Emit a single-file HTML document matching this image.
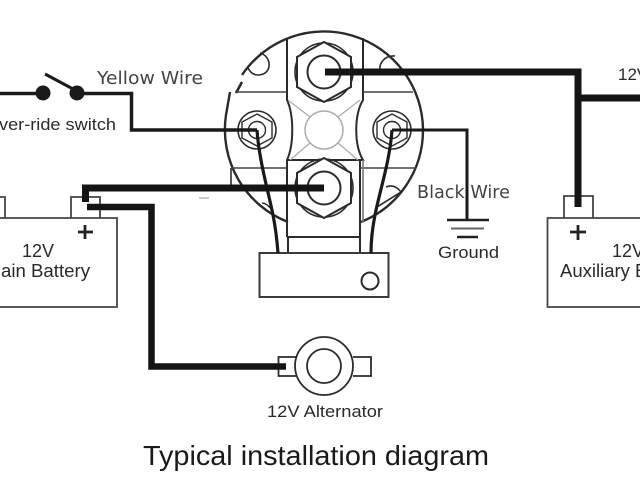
<!DOCTYPE html>
<html><head><meta charset="utf-8">
<style>
html,body{margin:0;padding:0;background:#fff;width:640px;height:480px;overflow:hidden}
svg{display:block;filter:blur(.3px)}
text{font-family:"Liberation Sans",sans-serif;fill:#2a2a2a}
</style></head><body>
<svg width="640" height="480" viewBox="0 0 640 480" xmlns="http://www.w3.org/2000/svg">
<g fill="none" stroke="#2b2b2b" stroke-width="2">
  <!-- outer circle -->
  <path d="M242 75 A99 99 0 0 1 423 130 A99 99 0 0 1 361 222" stroke-width="2.4"/>
  <path d="M288 222 A99 99 0 0 1 226 115 L230 92" stroke-width="2.4"/>
  <path d="M242 82 L236 93" stroke-width="2.600"/>
  <!-- lobes -->
  <path d="M260 53 C272 56 273 75 258 75 C253 75 250 72 248 68" stroke-width="1.600"/>
  <path d="M395 56 C385 55 377 64 381 73" stroke-width="1.600"/>
  <path d="M386 187 C393 184 398 188 401 192 L377 207" stroke-width="1.600"/>
  <path d="M262 203 C266 203 269 206 272 210" stroke-width="1.400"/>
  <!-- plates -->
  <path d="M287 38 L287 100 C294 115 294 145 287 160 L287 237 M363 38 L363 100 C354 115 354 145 363 160 L360 160 L360 252 M287 160 L360 160 M287 237 L360 237 M288 237 L288 253" stroke-width="2"/>
  <path d="M235 92 L287 92 M363 92 L413 92 M231 168 L287 168 M360 168 L416 168" stroke-width="1.600" stroke="#444"/>
  <path d="M231 168 L231 189" stroke-width="1.600"/>
  <path d="M363 160 L363 222" stroke-width="1.600" stroke="#777"/>
  <!-- centre circle -->
  <g stroke="#aaa" stroke-width="1.200">
    <circle cx="324" cy="130" r="19" stroke-width="1.500"/>
    <path d="M288 100 L310 117 M360 100 L338 117 M290 160 L310 143 M358 160 L338 143"/>
  </g>
  <!-- top nut -->
  <circle cx="324" cy="72" r="29" stroke-width="1.600"/>
  <path d="M324 42 L351 57 L351 87 L324 102 L297 87 L297 57 Z" fill="#fff" stroke-width="2"/>
  <circle cx="324" cy="72" r="16.500"/>
  <!-- bottom nut -->
  <circle cx="324" cy="188" r="29" stroke-width="1.600"/>
  <path d="M324 158 L351 173 L351 203 L324 218 L297 203 L297 173 Z" fill="#fff" stroke-width="2"/>
  <circle cx="324" cy="188" r="16.500"/>
  <!-- left terminal -->
  <circle cx="257" cy="130" r="19" stroke-width="1.600"/>
  <path d="M257 114 L272 122 L272 138 L257 146 L242 138 L242 122 Z" stroke-width="1.400"/>
  <circle cx="257" cy="130" r="8.500" stroke-width="1.400"/>
  <!-- right terminal -->
  <circle cx="392" cy="130" r="19" stroke-width="1.600"/>
  <path d="M392 114 L407 122 L407 138 L392 146 L377 138 L377 122 Z" stroke-width="1.400"/>
  <circle cx="392" cy="130" r="8.500" stroke-width="1.400"/>
  <!-- solenoid base -->
  <rect x="259.500" y="253" width="129" height="44" stroke="#3a3a3a"/>
  <circle cx="370" cy="281" r="8.500"/>
  <!-- batteries -->
  <path d="M-2 218 H117 V307 H-2 M5 218 V197 H-2 M71 218 V197 H100 V218" stroke="#444" stroke-width="1.800"/>
  <path d="M642 218 H547.500 V307 H642 M564 218 V196 H593 V218" stroke="#444" stroke-width="1.800"/>
  <!-- alternator -->
  <circle cx="324" cy="366" r="29" stroke-width="1.800"/>
  <circle cx="324" cy="366" r="17" stroke-width="1.800"/>
  <path d="M296 357 H278.500 V376 H296 M353 357 H371 V376 H353" stroke-width="1.800"/>
  <!-- thin wires -->
  <path d="M257 130 C259 160 268 190 273 215 C276 230 277 240 278 253" stroke="#1a1a1a" stroke-width="3.200"/>
  <path d="M392 130 C390 160 380 190 375 215 C372 230 371 240 371 253" stroke="#1a1a1a" stroke-width="3.200"/>
  <path d="M0 93.500 H43 M77 93.500 H131.500 V130 H257" stroke="#1a1a1a" stroke-width="3.500"/>
  <path d="M392 130 H467 V220" stroke="#1a1a1a" stroke-width="3"/>
  <path d="M45 74 L73 89" stroke="#1a1a1a" stroke-width="3"/>
  <!-- ground -->
  <path d="M447 220 H489" stroke="#222" stroke-width="2.500"/>
  <path d="M451 228.500 H484" stroke="#666" stroke-width="2"/>
  <path d="M457 237 H478" stroke="#222" stroke-width="2.500"/>
  <!-- thick wires -->
  <path d="M325 72 H578 V207" stroke="#141414" stroke-width="7"/>
  <path d="M578 98 H640" stroke="#141414" stroke-width="7"/>
  <path d="M324 188 H85.500 V202" stroke="#141414" stroke-width="7"/>
  <path d="M87 207 H151.500 V366.500 H286" stroke="#141414" stroke-width="6.500"/>
  <!-- plus signs -->
  <path d="M78 232 H93 M85 225 V239" stroke="#222" stroke-width="2.800"/>
  <path d="M570 232 H586 M578 225 V240" stroke="#222" stroke-width="2.800"/>
  <path d="M199 198 H209" stroke="#999" stroke-width="1"/>
</g>
<circle cx="43" cy="93" r="7.500" fill="#1a1a1a"/>
<circle cx="77" cy="93" r="7.500" fill="#1a1a1a"/>
<text x="97" y="84" style='font-family:"DejaVu Sans",sans-serif;fill:#444' font-size="18" textLength="106" lengthAdjust="spacingAndGlyphs">Yellow Wire</text>
<text x="-1" y="130" font-size="17" textLength="117" lengthAdjust="spacingAndGlyphs">ver-ride switch</text>
<text x="417" y="198" style='font-family:"DejaVu Sans",sans-serif;fill:#444' font-size="17.500" textLength="93" lengthAdjust="spacingAndGlyphs">Black Wire</text>
<text x="438" y="258" font-size="17" textLength="61" lengthAdjust="spacingAndGlyphs">Ground</text>
<text x="618" y="80" font-size="17">12V</text>
<text x="22" y="257" font-size="18" textLength="32" lengthAdjust="spacingAndGlyphs">12V</text>
<text x="1" y="277" font-size="18" textLength="89" lengthAdjust="spacingAndGlyphs">ain Battery</text>
<text x="612" y="257" font-size="18">12V</text>
<text x="560" y="277" font-size="18.500">Auxiliary B</text>
<text x="267" y="417" font-size="16.500" textLength="116" lengthAdjust="spacingAndGlyphs">12V Alternator</text>
<text x="143" y="465" font-size="28" textLength="346" lengthAdjust="spacingAndGlyphs" style="fill:#1a1a1a">Typical installation diagram</text>
</svg>
</body></html>
